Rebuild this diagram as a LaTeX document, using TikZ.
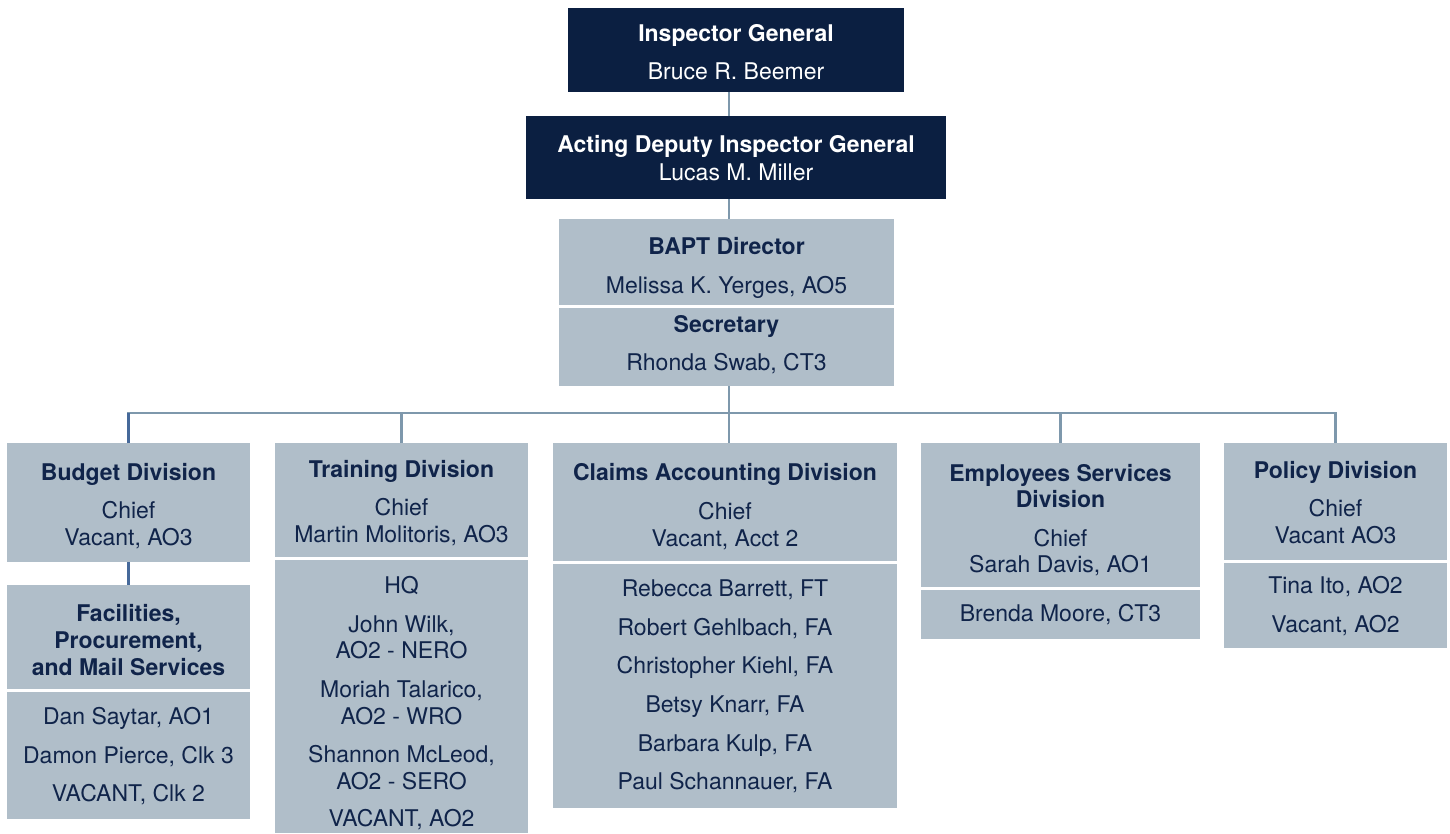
\documentclass[tikz,border=0pt]{standalone}
\usepackage{fontspec}
\setmainfont{TeX Gyre Heros}

\definecolor{navy}{HTML}{0B1F41}
\definecolor{slate}{HTML}{B0BEC9}
\definecolor{ink}{HTML}{10244A}
\definecolor{wire}{HTML}{7E98AC}
\definecolor{wiredark}{HTML}{46699A}

\tikzset{
  orgbox/.style={rectangle, draw=none, fill=slate, inner sep=0pt, outer sep=0pt},
  headbox/.style={orgbox, fill=navy},
  lbl/.style={anchor=base, inner sep=0pt, text=ink, font=\fontsize{23}{27}\selectfont},
  lblb/.style={lbl, font=\fontsize{23}{27}\selectfont\bfseries},
  wl/.style={lbl, text=white},
  wlb/.style={lblb, text=white},
  link/.style={draw=wire, line width=2.5pt},
  linkdark/.style={draw=wiredark, line width=2.5pt},
}

% rectangle node from its two corners: style, name, x1, y1, x2, y2
\newcommand\orgrect[6]{%
  \node[#1, minimum width={(#5-#3)*1pt}, minimum height={(#6-#4)*1pt}]
    (#2) at ({(#3+#5)/2},{(#4+#6)/2}) {};}
% one line of text on its baseline: style, name, x, y, text
\newcommand\tline[5]{\node[#1] (#2) at (#3,#4) {#5};}

\begin{document}
\begin{tikzpicture}[x=1pt, y=-1pt]
\useasboundingbox (0,0) rectangle (1450,833);

% ---- boxes ----
\orgrect{headbox}{ig}{568}{8}{904}{92}
\orgrect{headbox}{adig}{526}{116}{946}{199}
\orgrect{orgbox}{bapt}{559}{219}{894}{305}
\orgrect{orgbox}{sec}{559}{308}{894}{386}

\orgrect{orgbox}{budget}{7}{443}{250}{562}
\orgrect{orgbox}{fac}{7}{585}{250}{689}
\orgrect{orgbox}{facstaff}{7}{692}{250}{819}

\orgrect{orgbox}{training}{275}{443}{528}{557}
\orgrect{orgbox}{trainstaff}{275}{560}{528}{833}

\orgrect{orgbox}{claims}{553}{443}{897}{561}
\orgrect{orgbox}{claimstaff}{553}{564}{897}{808}

\orgrect{orgbox}{emp}{921}{443}{1200}{587}
\orgrect{orgbox}{empstaff}{921}{590}{1200}{639}

\orgrect{orgbox}{policy}{1224}{443}{1447}{560}
\orgrect{orgbox}{polstaff}{1224}{563}{1447}{648}

% ---- connectors ----
\coordinate (bus) at (729,413);
\draw[link] (ig.south -| bus) -- (adig.north -| bus);
\draw[link] (adig.south -| bus) -- (bapt.north -| bus);
\draw[link] (sec.south -| bus) -- (bus);
\draw[link] (budget.north) |- (bus) -| (policy.north);
\draw[link] (training.north) -- (training.north |- bus);
\draw[link] (bus) -- (claims.north -| bus);
\draw[link] (emp.north) -- (emp.north |- bus);
\draw[linkdark] (budget.north) -- (budget.north |- bus);
\draw[linkdark] (budget.south) -- (fac.north);

% ---- leadership ----
\tline{wlb}{igT}{736}{41}{Inspector General}
\tline{wl}{igN}{736}{79}{Bruce R. Beemer}
\tline{wlb}{adigT}{736}{152}{Acting Deputy Inspector General}
\tline{wl}{adigN}{736}{180}{Lucas M. Miller}
\tline{lblb}{baptT}{726.5}{254}{BAPT Director}
\tline{lbl}{baptN}{726.5}{293}{Melissa K. Yerges, AO5}
\tline{lblb}{secT}{726.5}{332}{Secretary}
\tline{lbl}{secN}{726.5}{370}{Rhonda Swab, CT3}

% ---- Budget Division ----
\tline{lblb}{budT}{128.5}{480}{Budget Division}
\tline{lbl}{budC}{128.5}{518}{Chief}
\tline{lbl}{budN}{128.5}{545}{Vacant, AO3}
\tline{lblb}{facT1}{128.5}{621}{Facilities,}
\tline{lblb}{facT2}{128.5}{648}{Procurement,}
\tline{lblb}{facT3}{128.5}{675}{and Mail Services}
\tline{lbl}{fac1}{128.5}{724}{Dan Saytar, AO1}
\tline{lbl}{fac2}{128.5}{763}{Damon Pierce, Clk 3}
\tline{lbl}{fac3}{128.5}{801}{VACANT, Clk 2}

% ---- Training Division ----
\tline{lblb}{trT}{401.5}{477}{Training Division}
\tline{lbl}{trC}{401.5}{515}{Chief}
\tline{lbl}{trN}{401.5}{542}{Martin Molitoris, AO3}
\tline{lbl}{tr1}{401.5}{593}{HQ}
\tline{lbl}{tr2a}{401.5}{632}{John Wilk,}
\tline{lbl}{tr2b}{401.5}{658}{AO2 - NERO}
\tline{lbl}{tr3a}{401.5}{697}{Moriah Talarico,}
\tline{lbl}{tr3b}{401.5}{724}{AO2 - WRO}
\tline{lbl}{tr4a}{401.5}{762}{Shannon McLeod,}
\tline{lbl}{tr4b}{401.5}{789}{AO2 - SERO}
\tline{lbl}{tr5}{401.5}{826}{VACANT, AO2}

% ---- Claims Accounting Division ----
\tline{lblb}{clT}{725}{480}{Claims Accounting Division}
\tline{lbl}{clC}{725}{519}{Chief}
\tline{lbl}{clN}{725}{546}{Vacant, Acct 2}
\tline{lbl}{cl1}{725}{596}{Rebecca Barrett, FT}
\tline{lbl}{cl2}{725}{635}{Robert Gehlbach, FA}
\tline{lbl}{cl3}{725}{673}{Christopher Kiehl, FA}
\tline{lbl}{cl4}{725}{712}{Betsy Knarr, FA}
\tline{lbl}{cl5}{725}{751}{Barbara Kulp, FA}
\tline{lbl}{cl6}{725}{789}{Paul Schannauer, FA}

% ---- Employees Services Division ----
\tline{lblb}{emT1}{1060.5}{481}{Employees Services}
\tline{lblb}{emT2}{1060.5}{507}{Division}
\tline{lbl}{emC}{1060.5}{546}{Chief}
\tline{lbl}{emN}{1060.5}{572}{Sarah Davis, AO1}
\tline{lbl}{em1}{1060.5}{621}{Brenda Moore, CT3}

% ---- Policy Division ----
\tline{lblb}{poT}{1335.5}{478}{Policy Division}
\tline{lbl}{poC}{1335.5}{516}{Chief}
\tline{lbl}{poN}{1335.5}{543}{Vacant AO3}
\tline{lbl}{po1}{1335.5}{593}{Tina Ito, AO2}
\tline{lbl}{po2}{1335.5}{632}{Vacant, AO2}
\end{tikzpicture}
\end{document}
